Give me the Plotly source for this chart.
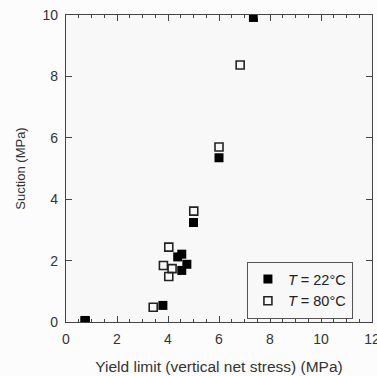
import plotly.graph_objects as go

# Data
x_22 = [0.75, 7.35, 3.80, 5.00, 6.00, 4.38, 4.54, 4.74, 4.54]
y_22 = [0.05, 9.92, 0.54, 3.24, 5.35, 2.12, 2.21, 1.88, 1.68]
x_80 = [0.75, 6.83, 6.00, 5.01, 4.03, 3.82, 4.16, 4.03, 3.42]
y_80 = [0.03, 8.37, 5.70, 3.61, 2.44, 1.84, 1.74, 1.48, 0.48]
x_ticks = [0, 2, 4, 6, 8, 10, 12]
y_ticks = [0, 2, 4, 6, 8, 10]

font = "Liberation Sans, Arial, sans-serif"
axcol = "#444444"

fig = go.Figure()
fig.add_trace(go.Scatter(
    x=x_80, y=y_80, mode="markers", name="<i>T</i> = 80°C",
    marker=dict(symbol="square-open", size=8, color="#222222", line=dict(width=1.6)),
))
fig.add_trace(go.Scatter(
    x=x_22, y=y_22, mode="markers", name="<i>T</i> = 22°C",
    marker=dict(symbol="square", size=9, color="#000000"),
))

common = dict(
    showline=True, linecolor=axcol, linewidth=1.2, mirror="ticks",
    ticks="inside", ticklen=6, tickwidth=1.2, tickcolor=axcol,
    showgrid=False, zeroline=False,
    tickfont=dict(family=font, size=14, color="#333333"),
    ticklabeloverflow="allow",
    ticklabelstandoff=4,
)
fig.update_xaxes(
    range=[0, 12], tickvals=x_ticks, ticktext=[str(v) for v in x_ticks],
    minor=dict(dtick=0.5, ticks="inside", ticklen=3, tickwidth=1, tickcolor=axcol, showgrid=False),
    title=dict(text="Yield limit (vertical net stress) (MPa)", font=dict(family=font, size=15.5, color="#333333"), standoff=15),
    automargin=False,
    **common,
)
fig.update_yaxes(
    range=[0, 10], tickvals=y_ticks, ticktext=[str(v) for v in y_ticks],
    title=dict(text="Suction (MPa)", font=dict(family=font, size=13, color="#333333"), standoff=13),
    automargin=False,
    **common,
)

fig.update_layout(
    width=377, height=376,
    margin=dict(l=66, r=5, t=15, b=54),
    paper_bgcolor="#fcfcfc", plot_bgcolor="#f8f8f8",
    showlegend=True,
    legend=dict(
        x=0.937, y=0.196, xanchor="right", yanchor="top",
        bordercolor="#555555", borderwidth=1.2, bgcolor="#f8f8f8",
        font=dict(family=font, size=14.5, color="#222222"),
        traceorder="reversed", itemwidth=30, tracegroupgap=0,
    ),
)

fig.write_html("out.html")
